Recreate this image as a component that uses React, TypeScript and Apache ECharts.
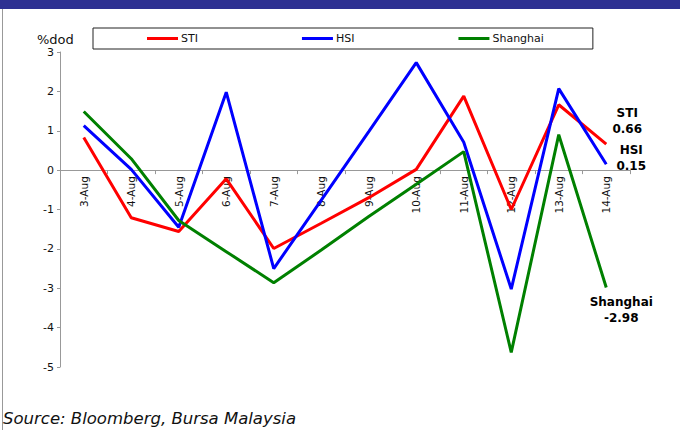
import React, { useEffect, useRef } from "react";
import * as echarts from "echarts";

// Daily % change of regional indices
const categories = [
  "3-Aug", "4-Aug", "5-Aug", "6-Aug", "7-Aug", "8-Aug",
  "9-Aug", "10-Aug", "11-Aug", "12-Aug", "13-Aug", "14-Aug",
];
const sti = [0.83, -1.21, -1.56, -0.22, -1.99, -1.35, -0.7, 0.02, 1.88, -1.0, 1.66, 0.66];
const hsi = [1.13, 0.02, -1.45, 1.98, -2.5, -0.76, 0.98, 2.73, 0.71, -3.02, 2.07, 0.15];
const shanghai = [1.49, 0.29, -1.28, -2.07, -2.86, -2.03, -1.18, -0.36, 0.47, -4.63, 0.9, -2.98];

const yMin = -5;
const yMax = 3;

const seriesNames = ["STI", "HSI", "Shanghai"];
const seriesData = [sti, hsi, shanghai];
const seriesColors = ["#ff0000", "#0000ff", "#008000"];
// offsets of the closing-value labels from the last point
const endLabelOffsets: [number, number][] = [
  [21, -23],
  [25, -6],
  [15, 23],
];

const FONT = "DejaVu Sans";
const GRID_TOP = 52;
const GRID_BOTTOM = 63;
const CHART_H = 430;

export default function App() {
  const ref = useRef<HTMLDivElement>(null);

  useEffect(() => {
    if (!ref.current) return;
    const chart = echarts.init(ref.current, undefined, { renderer: "svg" });
    const last = categories.length - 1;
    // the category axis sits on the zero line: shift it up from the grid bottom
    const plotH = CHART_H - GRID_TOP - GRID_BOTTOM;
    const zeroShift = (plotH * (0 - yMin)) / (yMax - yMin);

    chart.setOption({
      animation: false,
      backgroundColor: "#ffffff",
      textStyle: { fontFamily: FONT },
      grid: { left: 60, right: 50, top: GRID_TOP, bottom: GRID_BOTTOM },
      legend: {
        left: 93,
        top: 28,
        orient: "horizontal",
        data: seriesNames,
        icon: "rect",
        itemWidth: 31,
        itemHeight: 3,
        itemGap: 104,
        padding: [5, 49, 5, 54],
        borderColor: "#222",
        borderWidth: 1,
        textStyle: { fontFamily: FONT, fontSize: 11, color: "#111", padding: [0, 0, 0, -2] },
      },
      xAxis: {
        type: "category",
        data: categories,
        boundaryGap: true,
        offset: -zeroShift,
        axisLine: { onZero: false, lineStyle: { color: "#999", width: 1 } },
        axisTick: { show: true, length: 4, inside: false, lineStyle: { color: "#999" } },
        axisLabel: {
          rotate: 90,
          margin: 6,
          fontFamily: FONT,
          fontSize: 10.5,
          color: "#111",
          interval: 0,
        },
        splitLine: { show: false },
      },
      yAxis: {
        type: "value",
        min: yMin,
        max: yMax,
        interval: 1,
        axisLine: { show: true, lineStyle: { color: "#999", width: 1 } },
        axisTick: { show: true, length: 3, lineStyle: { color: "#999" } },
        axisLabel: { fontFamily: FONT, fontSize: 11, color: "#111", margin: 6 },
        splitLine: { show: false },
      },
      series: seriesNames.map((name, i) => ({
        name,
        type: "line",
        data: seriesData[i],
        symbol: "none",
        lineStyle: { color: seriesColors[i], width: 3 },
        itemStyle: { color: seriesColors[i] },
        markPoint: {
          symbol: "circle",
          symbolSize: 1,
          itemStyle: { color: "rgba(0,0,0,0)" },
          data: [
            {
              coord: [last, seriesData[i][last]],
              value: seriesData[i][last],
              label: {
                show: true,
                position: "inside",
                offset: endLabelOffsets[i],
                align: "center",
                verticalAlign: "middle",
                fontFamily: FONT,
                fontWeight: "bold",
                fontSize: 12,
                lineHeight: 16,
                color: "#000",
                formatter: () => `${name}\n${seriesData[i][last].toFixed(2)}`,
              },
            },
          ],
        },
      })),
      graphic: [
        {
          type: "rect",
          shape: { x: 0, y: 0, width: 680, height: 9 },
          style: { fill: "#2e3192" },
          silent: true,
        },
        {
          type: "line",
          shape: { x1: 2.5, y1: 9, x2: 2.5, y2: 430 },
          style: { stroke: "#999", lineWidth: 1 },
          silent: true,
        },
        {
          type: "text",
          left: 37,
          top: 33,
          style: { text: "%dod", font: `13px '${FONT}'`, fill: "#111" },
        },
        {
          type: "text",
          left: 3,
          top: 410,
          style: {
            text: "Source: Bloomberg, Bursa Malaysia",
            font: `italic 16.5px '${FONT}'`,
            fill: "#111",
          },
        },
      ],
    });

    return () => chart.dispose();
  }, []);

  return (
    <div
      ref={ref}
      style={{ position: "fixed", left: 0, top: 0, width: 680, height: 430 }}
    />
  );
}
